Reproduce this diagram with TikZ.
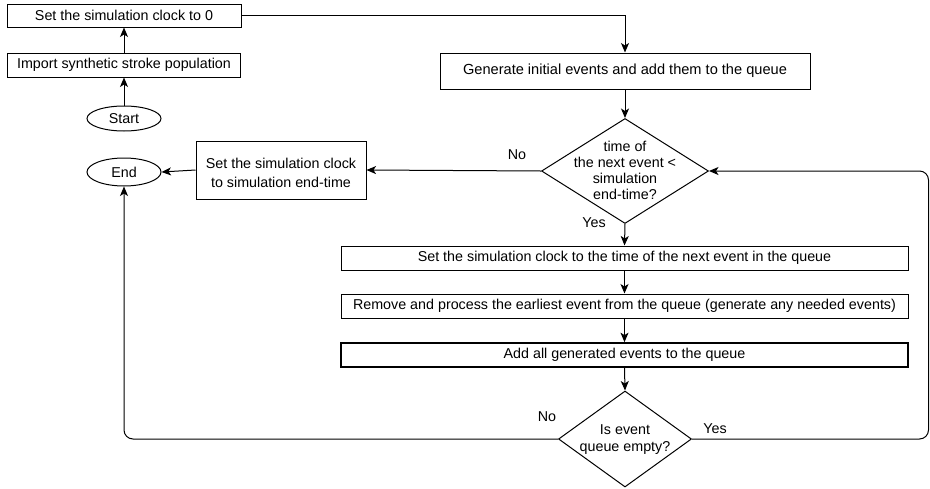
\documentclass[tikz,border=0pt]{standalone}
\usepackage{fontspec}
\setmainfont{Liberation Sans}
\usetikzlibrary{arrows.meta,shapes.geometric}

\begin{document}
\begin{tikzpicture}[x=1pt,y=-1pt,
  every node/.style={font=\fontsize{14.3}{16.5}\selectfont, inner sep=0pt, text=black},
  proc/.style={draw, rectangle, line width=1pt},
  term/.style={draw, ellipse, line width=1pt, minimum width=74pt},
  decision/.style={draw, diamond, line width=1pt},
  lbl/.style={},
  flow/.style={draw, line width=1pt, -{Stealth[length=9.5pt,width=8pt,inset=2.5pt]}}
]
\useasboundingbox (0,0) rectangle (930,488);

% left column
\node[proc, minimum width=234pt, minimum height=23pt] (clk0) at (124,15.5) {Set the simulation clock to 0};
\node[proc, minimum width=233pt, minimum height=24pt] (imp) at (124,65) {Import synthetic stroke population};
\node[term, minimum height=25pt] (start) at (124,118.5) {Start};
\node[term, minimum height=28pt] (endn) at (124,172) {End};
\node[proc, minimum width=170pt, minimum height=58pt] (endclk) at (281,170) {};
\node[align=center, font=\fontsize{14.3}{19}\selectfont] (endclkt) at (281,172.5)
      {Set the simulation clock\\to simulation end-time};

% main column
\node[proc, minimum width=370pt, minimum height=36pt,
      font=\fontsize{14.6}{18}\selectfont] (gen) at (625,71)
      {Generate initial events and add them to the queue};
\node[decision, minimum width=167pt, minimum height=105pt] (dec1) at (625,171) {};
\node[align=center, font=\fontsize{14.3}{16}\selectfont] (dec1t) at (625,170)
      {time of\\the next event <\\simulation\\end-time?};
\node[proc, minimum width=567pt, minimum height=24pt] (b1) at (624.5,258)
      {Set the simulation clock to the time of the next event in the queue};
\node[proc, minimum width=567pt, minimum height=24pt] (b2) at (624.5,306)
      {Remove and process the earliest event from the queue (generate any needed events)};
\node[proc, line width=1.7pt, minimum width=567pt, minimum height=24pt] (b3) at (624.5,355)
      {Add all generated events to the queue};
\node[decision, minimum width=133pt, minimum height=96pt] (dec2) at (625,439) {};
\node[align=center, font=\fontsize{14.3}{17}\selectfont] (dec2t) at (625,440)
      {Is event\\queue empty?};

% branch labels
\node[lbl] (no1) at (517,155) {No};
\node[lbl] (yes1) at (594,223) {Yes};
\node[lbl] (no2) at (547,417) {No};
\node[lbl] (yes2) at (715,429) {Yes};

% connectors
\coordinate (rx) at (928.5,0);
\draw[flow] (start) -- (imp);
\draw[flow] (imp) -- (clk0);
\draw[flow] (clk0.east) -| (gen.north);
\draw[flow] (gen) -- (dec1);
\draw[flow] (dec1.west) -- (endclk.east);
\draw[flow] (endclk.west) -- (endn.east);
\draw[flow] (dec1.south) -- (b1.north);
\draw[flow] (b1) -- (b2);
\draw[flow] (b2) -- (b3);
\draw[flow] (b3.south) -- (dec2.north);
\draw[flow, rounded corners=9pt] (dec2.west) -- (dec2.west -| endn.south) -- (endn.south);
\draw[flow, rounded corners=9pt] (dec2.east) -- (dec2.east -| rx) -- (dec1.east -| rx) -- (dec1.east);
\end{tikzpicture}
\end{document}
